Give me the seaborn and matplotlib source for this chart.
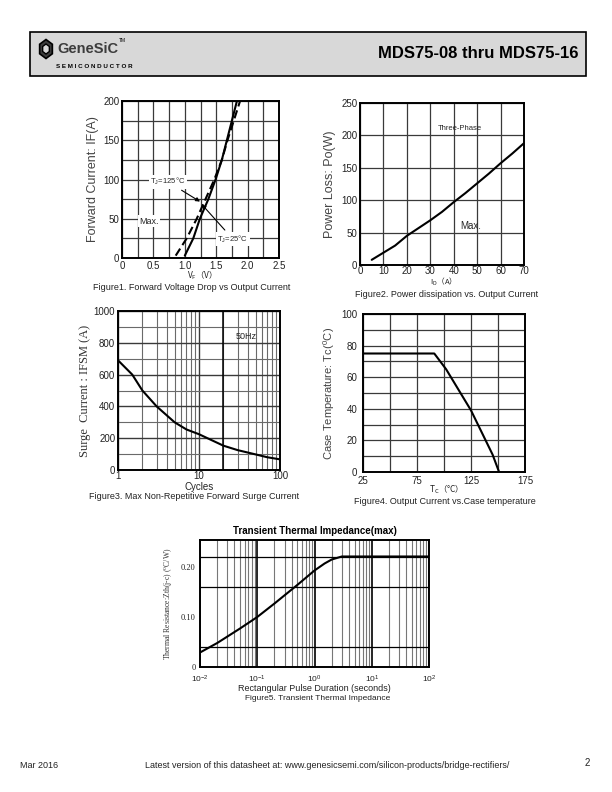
import matplotlib

matplotlib.use("Agg")
import matplotlib.pyplot as plt
import numpy as np
import seaborn as sns
from matplotlib.patches import Rectangle, RegularPolygon
from matplotlib.ticker import FixedLocator, LogLocator, NullFormatter

# Figure 1: forward voltage drop
vf_25 = [1.00, 1.135, 1.24, 1.375, 1.49, 1.59, 1.67, 1.75, 1.83]
if_25 = [3, 25, 50, 75, 100, 125, 150, 175, 200]
vf_125 = [0.855, 1.03, 1.19, 1.33, 1.47, 1.59, 1.68, 1.78, 1.88]
if_125 = [3, 25, 50, 75, 100, 125, 150, 175, 200]

# Figure 2: power dissipation
id_amps = [5, 10, 15, 20, 25, 30, 35, 40, 45, 50, 55, 60, 65, 70]
p_loss = [8, 19, 30, 45, 57, 69, 82, 97, 111, 126, 141, 157, 172, 188]

# Figure 3: surge current
cycles = [1, 1.5, 2, 3, 5, 7, 10, 20, 30, 50, 70, 100]
ifsm = [690, 600, 500, 400, 300, 255, 225, 153, 125, 98, 80, 67]

# Figure 4: derating
tc = [25, 91, 102, 125, 145, 151]
io = [75, 75, 65, 39, 11, 0]

# Figure 5: transient thermal impedance
pulse_s = [0.01, 0.02, 0.05, 0.1, 0.2, 0.5, 1, 1.5, 2, 3, 10, 100]
zth = [0.029, 0.048, 0.077, 0.100, 0.127, 0.164, 0.193, 0.207, 0.215, 0.221, 0.221, 0.221]

W, H = 612, 792
SANS = ["Liberation Sans", "Noto Sans CJK SC", "DejaVu Sans"]
SERIF = ["Liberation Serif", "DejaVu Serif"]
CJK = "Noto Sans CJK SC"
GRID = "#3a3a3a"
TXT = "#222222"

sns.set_theme(style="white")
plt.rcParams["font.family"] = SANS
plt.rcParams["mathtext.fontset"] = "stix"
plt.rcParams["axes.edgecolor"] = "black"
plt.rcParams["axes.linewidth"] = 1.4


def box(x0, y0, x1, y1):
    # pixel box -> figure fraction rect
    return [x0 / W, 1 - y1 / H, (x1 - x0) / W, (y1 - y0) / H]


def ftext(fig, x, y, s, **kw):
    kw.setdefault("color", TXT)
    fig.text(x / W, 1 - y / H, s, **kw)


def style_ax(ax, size=7):
    ax.tick_params(labelsize=size, length=0, pad=2, colors=TXT)
    for sp in ax.spines.values():
        sp.set_color("black")
        sp.set_linewidth(1.4)


def xlabel_at(ax, s, y_px, bottom_px, height_px, **kw):
    # put x label top edge at a given pixel row
    ax.set_xlabel(s, **kw)
    ax.xaxis.set_label_coords(0.5, -(y_px - bottom_px) / height_px)


fig = plt.figure(figsize=(W / 100, H / 100), dpi=100)

# header
fig.patches.append(Rectangle((30 / W, 1 - 76 / H), 556 / W, 44 / H, transform=fig.transFigure,
                             facecolor="#d8d8d8", edgecolor="black", linewidth=1.2))
fig.patches.append(RegularPolygon((46 / W, 1 - 49 / H), 6, radius=9.5 / H, transform=fig.transFigure,
                                  facecolor="#3c3c3c", edgecolor="black", linewidth=1.2))
fig.patches.append(RegularPolygon((46 / W, 1 - 49 / H), 6, radius=5 / H, transform=fig.transFigure,
                                  facecolor="#d8d8d8", edgecolor="black", linewidth=1))
ftext(fig, 57, 49, "GeneSiC", fontsize=10.5, fontweight="bold", color="#3c3c3c", va="center")
ftext(fig, 119, 41, "TM", fontsize=3.5, color="black", va="center")
ftext(fig, 56, 67, "S E M I C O N D U C T O R", fontsize=4.5, fontweight="bold", color="black", va="center")
ftext(fig, 578, 54, "MDS75-08 thru MDS75-16", fontsize=12, fontweight="bold", color="black",
      ha="right", va="center")

# ---------- Figure 1
ax1 = fig.add_axes(box(122, 101, 279, 258))
sns.lineplot(x=vf_25, y=if_25, ax=ax1, color="black", linewidth=1.5, estimator=None, sort=False)
sns.lineplot(x=vf_125, y=if_125, ax=ax1, color="black", linewidth=1.5, linestyle=(0, (4, 2)),
             estimator=None, sort=False)
ax1.set_xlim(0, 2.5)
ax1.set_ylim(0, 200)
ax1.xaxis.set_major_locator(FixedLocator([0, 0.5, 1.0, 1.5, 2.0, 2.5]))
ax1.xaxis.set_minor_locator(FixedLocator(np.arange(0, 2.51, 0.25)))
ax1.yaxis.set_major_locator(FixedLocator([0, 50, 100, 150, 200]))
ax1.yaxis.set_minor_locator(FixedLocator(np.arange(0, 201, 25)))
ax1.grid(True, which="both", color=GRID, linewidth=0.9)
ax1.set_xticklabels(["0", "0.5", "1.0", "1.5", "2.0", "2.5"])
style_ax(ax1)
xlabel_at(ax1, "V$_\\mathregular{F}$（V）", 269, 258, 157, fontsize=6, color=TXT, family=CJK)
ax1.set_ylabel("Forward Current: IF(A)", fontsize=9, color="#444444", labelpad=3)
bb = dict(facecolor="white", edgecolor="none", pad=1)
ax1.annotate("T$_\\mathregular{J}$=125°C", xy=(1.28, 70), xytext=(0.45, 94), fontsize=5.5,
             bbox=bb, arrowprops=dict(arrowstyle="-|>", color="black", lw=0.8, mutation_scale=6))
ax1.annotate("T$_\\mathregular{J}$=25°C", xy=(1.24, 71), xytext=(1.52, 21), fontsize=5.5,
             bbox=bb, arrowprops=dict(arrowstyle="-|>", color="black", lw=0.8, mutation_scale=6))
ax1.text(0.27, 47, "Max.", fontsize=6.5, bbox=bb, va="center")
ftext(fig, 93, 288, "Figure1. Forward Voltage Drop vs Output Current", fontsize=6.5, va="center")

# ---------- Figure 2
ax2 = fig.add_axes(box(360, 103, 524, 265))
sns.lineplot(x=id_amps, y=p_loss, ax=ax2, color="black", linewidth=1.5, estimator=None)
ax2.set_xlim(0, 70)
ax2.set_ylim(0, 250)
ax2.xaxis.set_major_locator(FixedLocator(np.arange(0, 71, 10)))
ax2.yaxis.set_major_locator(FixedLocator(np.arange(0, 251, 50)))
ax2.grid(True, color=GRID, linewidth=0.9)
style_ax(ax2)
ax2.tick_params(axis="x", pad=0.5)
xlabel_at(ax2, "I$_\\mathregular{D}$（A）", 276, 265, 162, fontsize=5.5, color=TXT, family=CJK)
ax2.set_ylabel("Power Loss: Po(W)", fontsize=9, color="#444444", labelpad=4)
ax2.text(33, 210, "Three-Phase", fontsize=5.5, va="center")
ax2.text(43, 60, "Max.", fontsize=7, va="center")
ftext(fig, 355, 295, "Figure2. Power dissipation vs. Output Current", fontsize=6.5, va="center")

# ---------- Figure 3
ax3 = fig.add_axes(box(118, 311, 280, 470))
sns.lineplot(x=cycles, y=ifsm, ax=ax3, color="black", linewidth=1.5, estimator=None)
ax3.set_xscale("log")
ax3.set_xlim(1, 100)
ax3.set_ylim(0, 1000)
ax3.xaxis.set_major_locator(FixedLocator([1, 10, 100]))
ax3.xaxis.set_minor_locator(LogLocator(base=10, subs=np.arange(2, 10)))
ax3.xaxis.set_minor_formatter(NullFormatter())
ax3.set_xticklabels(["1", "10", "100"])
ax3.yaxis.set_major_locator(FixedLocator(np.arange(0, 1001, 200)))
ax3.yaxis.set_minor_locator(FixedLocator(np.arange(0, 1001, 100)))
ax3.grid(True, which="major", color=GRID, linewidth=1.0)
ax3.grid(True, which="minor", color="#6a6a6a", linewidth=0.8)
ax3.axvline(20, color="black", linewidth=1.1)
style_ax(ax3)
ax3.tick_params(axis="x", pad=1)
xlabel_at(ax3, "Cycles", 482, 470, 159, fontsize=7, color=TXT)
ax3.set_ylabel("Surge  Current : IFSM (A)", fontsize=9, family=SERIF, color="#333333", labelpad=2)
ax3.text(28, 840, "50Hz", fontsize=6.5, va="center")
ftext(fig, 89, 497, "Figure3. Max Non-Repetitive Forward Surge Current", fontsize=6.5, va="center")

# ---------- Figure 4
ax4 = fig.add_axes(box(363, 314, 525, 472))
sns.lineplot(x=tc, y=io, ax=ax4, color="black", linewidth=1.5, estimator=None)
ax4.set_xlim(25, 175)
ax4.set_ylim(0, 100)
ax4.xaxis.set_major_locator(FixedLocator([25, 75, 125, 175]))
ax4.xaxis.set_minor_locator(FixedLocator(np.arange(25, 176, 25)))
ax4.yaxis.set_major_locator(FixedLocator(np.arange(0, 101, 20)))
ax4.yaxis.set_minor_locator(FixedLocator(np.arange(0, 101, 10)))
ax4.grid(True, which="both", color=GRID, linewidth=0.9)
style_ax(ax4)
ax4.tick_params(axis="y", pad=4)
ax4.tick_params(axis="x", pad=3)
xlabel_at(ax4, "T$_\\mathregular{C}$（°C）", 483, 472, 158, fontsize=6, color=TXT, family=CJK)
ax4.set_ylabel("Case Temperature: Tc($^\\mathregular{0}$C)", fontsize=8, color="#444444", labelpad=3)
ftext(fig, 354, 501, "Figure4. Output Current vs.Case temperature", fontsize=6.5, va="center")

# ---------- Figure 5
ax5 = fig.add_axes(box(200, 540, 429, 667))
sns.lineplot(x=pulse_s, y=zth, ax=ax5, color="black", linewidth=1.5, estimator=None)
ax5.set_xscale("log")
ax5.set_xlim(0.01, 100)
ax5.set_ylim(0, 0.254)
ax5.xaxis.set_major_locator(LogLocator(base=10, numticks=10))
ax5.xaxis.set_minor_locator(LogLocator(base=10, subs=np.arange(2, 10), numticks=20))
ax5.xaxis.set_minor_formatter(NullFormatter())
ax5.yaxis.set_major_locator(FixedLocator([0, 0.10, 0.20]))
ax5.yaxis.set_minor_locator(FixedLocator([0.04, 0.10, 0.16, 0.22]))
ax5.set_yticklabels(["0", "0.10", "0.20"])
ax5.grid(True, which="minor", color="black", linewidth=0.9)
ax5.grid(True, which="major", axis="x", color="black", linewidth=1.2)
ax5.grid(False, which="major", axis="y")
ax5.grid(True, which="minor", axis="x", color="#777777", linewidth=0.8)
style_ax(ax5, size=6)
ax5.tick_params(axis="x", pad=5)
ax5.tick_params(axis="y", pad=3)
for lab in ax5.get_yticklabels():
    lab.set_family(SERIF)
xlabel_at(ax5, "Rectangular Pulse Duration (seconds)", 684, 667, 127, fontsize=6.5, color=TXT)
ax5.set_ylabel("Thermal Resistance:Zth(j-c) ($^\\mathregular{0}$C/W)", fontsize=5.5, family=SERIF,
               color="#333333", labelpad=4)
ax5.set_title("Transient Thermal Impedance(max)", fontsize=7, fontweight="bold", color="black", pad=4)
ftext(fig, 245, 699, "Figure5. Transient Thermal Impedance", fontsize=6, va="center")

# footer
ftext(fig, 20, 765, "Mar 2016", fontsize=6.5, va="center")
ftext(fig, 145, 765, "Latest version of this datasheet at: www.genesicsemi.com/silicon-products/bridge-rectifiers/",
      fontsize=6.5, va="center")
ftext(fig, 590, 763, "2", fontsize=7, va="center", ha="right")

fig.savefig("out.png", dpi=100)
